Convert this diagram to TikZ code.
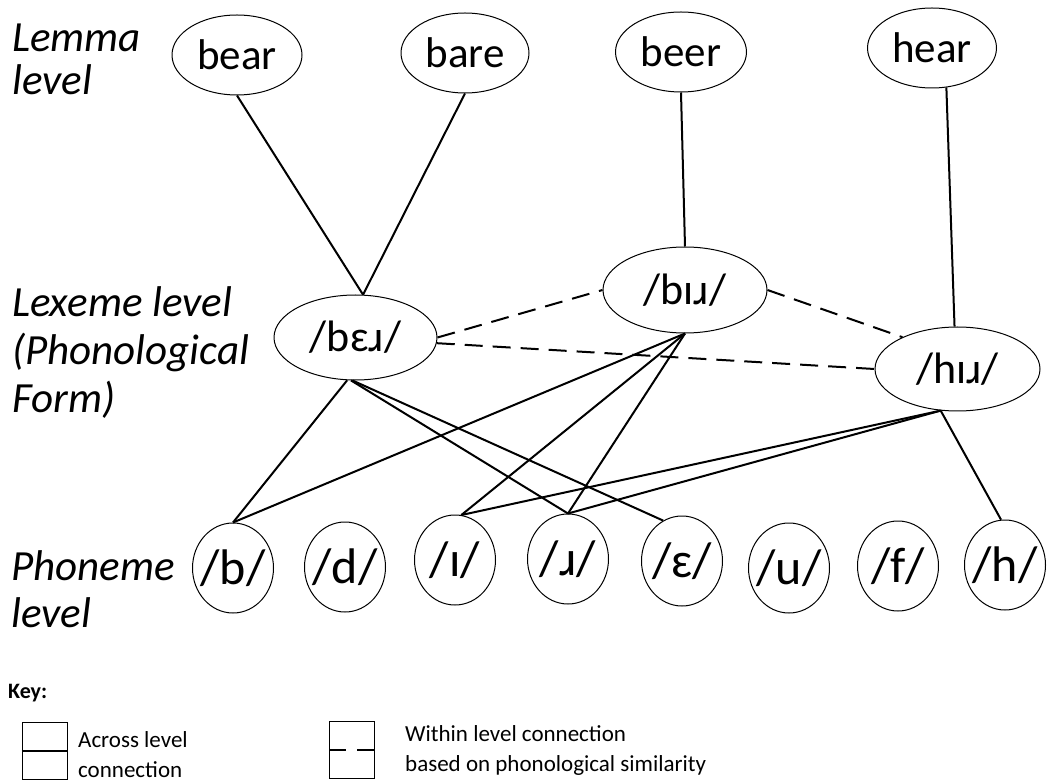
\documentclass[tikz,border=0pt]{standalone}
\usepackage{fontspec}
\setmainfont{Carlito}
\usetikzlibrary{shapes.geometric}
\begin{document}
\begin{tikzpicture}[x=1pt,y=-1pt,
  oval/.style={draw, ellipse, line width=1pt, inner sep=0pt},
  word/.style={oval, font=\fontsize{43}{43}\selectfont},
  lex/.style={oval, font=\fontsize{44}{44}\selectfont},
  phon/.style={oval, minimum width=81pt, minimum height=90pt, font=\fontsize{50}{50}\selectfont},
  link/.style={line width=2pt},
  sim/.style={line width=2pt, dash pattern=on 18pt off 10pt},
  lvl/.style={anchor=base west, align=left, inner sep=0pt},
  keytext/.style={anchor=base west, align=left, inner sep=0pt, font=\fontsize{23}{30}\selectfont},
  keybox/.style={draw, line width=0.8pt, minimum width=45pt, minimum height=57pt, inner sep=0pt}]
\useasboundingbox (0,0) rectangle (1047,783);

% level labels (anchored at the baseline of the last line)
\node[lvl, font=\fontsize{43}{43}\selectfont\itshape] (lemma) at (12,95) {Lemma\\level};
\node[lvl, font=\fontsize{43}{48}\selectfont\itshape] (lexeme) at (12,413) {Lexeme level\\(Phonological\\Form)};
\node[lvl, font=\fontsize{43}{47}\selectfont\itshape] (phoneme) at (11,627) {Phoneme\\level};

% lemma nodes
\node[word, minimum width=130pt, minimum height=80pt] (bear) at (237,55) {bear};
\node[word, minimum width=128pt, minimum height=80pt] (bare) at (465,53) {bare};
\node[word, minimum width=131pt, minimum height=80pt] (beer) at (681,52) {beer};
\node[word, minimum width=129pt, minimum height=80pt] (hear) at (932,48) {hear};

% lexeme nodes
\node[lex, minimum width=163pt, minimum height=85pt] (bE) at (355.5,337.5) {\makebox[0pt]{/bɛɹ/}};
\node[lex, minimum width=164pt, minimum height=86pt] (bI) at (685,290) {\makebox[0pt]{/bɪɹ/}};
\node[lex, minimum width=165pt, minimum height=84pt] (hI) at (957.5,369) {\makebox[0pt]{/hɪɹ/}};

% phoneme nodes
\node[phon] (b) at (233,568) {\makebox[0pt]{/b/}};
\node[phon] (d) at (345,567) {\makebox[0pt]{/d/}};
\node[phon] (i) at (455,560) {\makebox[0pt]{/ɪ/}};
\node[phon] (r) at (568,559) {\makebox[0pt]{/ɹ/}};
\node[phon] (e) at (682,561) {\makebox[0pt]{/ɛ/}};
\node[phon] (u) at (789,568) {\makebox[0pt]{/u/}};
\node[phon] (f) at (898,566) {\makebox[0pt]{/f/}};
\node[phon] (h) at (1005,565) {\makebox[0pt]{/h/}};

% across-level connections
\draw[link] (bear.south) -- (bE.80);
\draw[link] (bare.south) -- (bE.80);
\draw[link] (beer.south) -- (bI.north);
\draw[link] (hear.-70) -- (hI.94);
\draw[link] (bE.-101) -- (b.north);
\draw[link] (bE.-96) -- (r.north);
\draw[link] (bE.-94) -- (e.115);
\draw[link] (bI.south) -- (b.north);
\draw[link] (bI.south) -- (i.82);
\draw[link] (bI.south) -- (r.north);
\draw[link] (hI.-112) -- (i.82);
\draw[link] (hI.-112) -- (r.north);
\draw[link] (hI.-112) -- (h.95);

% within-level connections
\draw[sim] (bE.east) -- (bI.west);
\draw[sim] (bE.-4) -- (hI.west);
\draw[sim] (bI.east) -- (hI.150);

% key
\node[anchor=base west, inner sep=0pt, font=\fontsize{22}{22}\selectfont\bfseries] (key) at (8,698) {Key:};
\node[keybox] (k1) at (44.5,750.5) {};
\draw[link] (k1.west) -- (k1.east);
\node[keytext] (t1) at (78,777) {Across level\\connection};
\node[keybox] (k2) at (352,749.5) {};
\draw[line width=2pt, dash pattern=on 17pt off 11pt] (k2.west) -- (k2.east);
\node[keytext] (t2) at (405,771) {Within level connection\\based on phonological similarity};
\end{tikzpicture}
\end{document}
